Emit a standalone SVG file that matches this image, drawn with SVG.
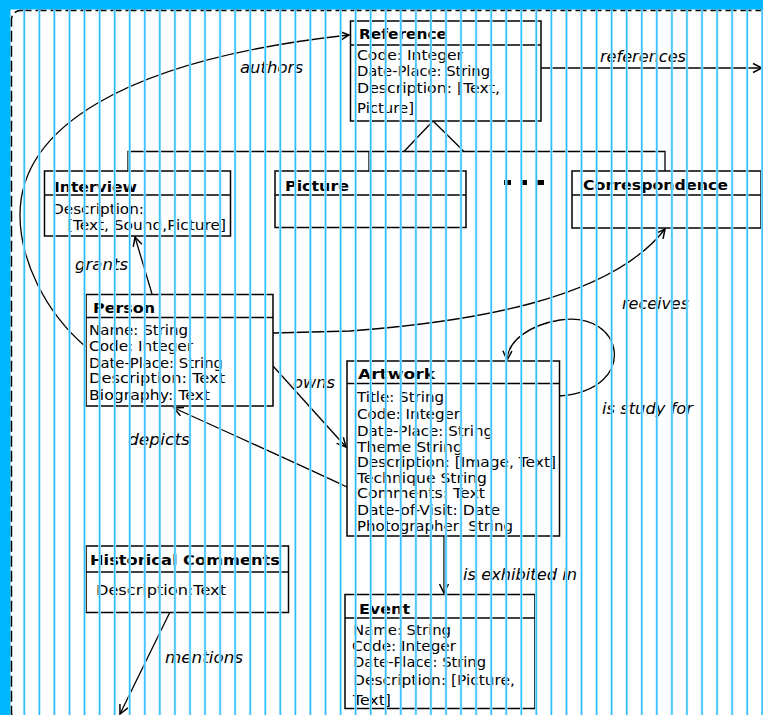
<svg xmlns="http://www.w3.org/2000/svg" width="763" height="715" viewBox="0 0 763 715">
<style>
.box{fill:#fff;stroke:#000;stroke-width:1.5}
.div{stroke:#000;stroke-width:1.5}
.hdr{font-family:"DejaVu Sans",sans-serif;font-weight:bold;font-size:14.5px;fill:#000}
.att{font-family:"DejaVu Sans",sans-serif;font-size:14.5px;fill:#000}
.lbl{font-family:"DejaVu Sans",sans-serif;font-style:italic;font-size:15px;fill:#000}
.conn{fill:none;stroke:#000;stroke-width:1.3}
</style>
<defs>
<marker id="arr" markerUnits="userSpaceOnUse" markerWidth="14" markerHeight="14" refX="10" refY="5" orient="auto" overflow="visible">
<path d="M1,0.5 L10,5 L1,9.5" fill="none" stroke="#000" stroke-width="1.5"/>
</marker>
</defs>
<rect x="0" y="0" width="763" height="715" fill="#fff"/>
<rect x="0" y="0" width="763" height="9.5" fill="#00b6ff"/>
<rect x="0" y="0" width="10.5" height="715" fill="#00b6ff"/>
<rect x="11.5" y="10.5" width="770" height="711" rx="9" fill="none" stroke="#000" stroke-width="1.5" stroke-dasharray="11 4"/>

<g id="connectors">
<path class="conn" d="M86,347 C45,312 20,260 20,215 C20,130 120,60 349,35" marker-end="url(#arr)"/>
<path class="conn" d="M541,68 H762" marker-end="url(#arr)"/>
<path class="conn" d="M152,294 L135,237" marker-end="url(#arr)"/>
<path class="conn" d="M273,333 L350,331 C470,322 610,300 665,229" marker-end="url(#arr)"/>
<path class="conn" d="M559,396 C640,390 625,310 560,320 C530,325 508,340 507,360" marker-end="url(#arr)"/>
<path class="conn" d="M273,366 L346,447" marker-end="url(#arr)"/>
<path class="conn" d="M347,487 Q300,465 174,408" marker-end="url(#arr)"/>
<path class="conn" d="M444,536 V593" marker-end="url(#arr)"/>
<path class="conn" d="M170,612 L120,714" marker-end="url(#arr)"/>
<path class="conn" d="M128,171 V151.5 H665 V171 M369,151.5 V171 M404,151.5 L433,121 L464,151.5"/>
<rect x="504" y="180" width="7" height="5" fill="#000"/>
<rect x="520" y="180" width="7" height="5" fill="#000"/>
<rect x="537" y="180" width="7" height="5" fill="#000"/>
<text class="lbl" x="240" y="73" textLength="63" lengthAdjust="spacingAndGlyphs">authors</text>
<text class="lbl" x="600" y="62" textLength="86" lengthAdjust="spacingAndGlyphs">references</text>
<text class="lbl" x="75" y="270" textLength="53" lengthAdjust="spacingAndGlyphs">grants</text>
<text class="lbl" x="622" y="309" textLength="67" lengthAdjust="spacingAndGlyphs">receives</text>
<text class="lbl" x="602" y="414" textLength="91" lengthAdjust="spacingAndGlyphs">is study for</text>
<text class="lbl" x="293" y="388" textLength="42" lengthAdjust="spacingAndGlyphs">owns</text>
<text class="lbl" x="128" y="445" textLength="62" lengthAdjust="spacingAndGlyphs">depicts</text>
<text class="lbl" x="463" y="580" textLength="114" lengthAdjust="spacingAndGlyphs">is exhibited in</text>
<text class="lbl" x="165" y="663" textLength="78" lengthAdjust="spacingAndGlyphs">mentions</text>
</g>

<g id="reference">
<rect class="box" x="350.5" y="21" width="190.5" height="100"/>
<line class="div" x1="350.5" y1="45" x2="541" y2="45"/>
<text class="hdr" x="359" y="39" textLength="88" lengthAdjust="spacingAndGlyphs">Reference</text>
<text class="att" x="357" y="60" textLength="106" lengthAdjust="spacingAndGlyphs">Code: Integer</text>
<text class="att" x="357" y="76" textLength="133" lengthAdjust="spacingAndGlyphs">Date-Place: String</text>
<text class="att" x="357" y="93" textLength="143" lengthAdjust="spacingAndGlyphs">Description: [Text,</text>
<text class="att" x="357" y="113" textLength="57" lengthAdjust="spacingAndGlyphs">Picture]</text>
</g>

<g id="interview">
<rect class="box" x="44.5" y="171" width="186" height="65"/>
<line class="div" x1="44.5" y1="195" x2="230.5" y2="195"/>
<text class="hdr" x="54" y="192" textLength="83" lengthAdjust="spacingAndGlyphs">Interview</text>
<text class="att" x="52" y="214" textLength="92" lengthAdjust="spacingAndGlyphs">Description:</text>
<text class="att" x="67" y="230" textLength="159" lengthAdjust="spacingAndGlyphs">[Text, Sound,Picture]</text>
</g>

<g id="picture">
<rect class="box" x="275" y="171" width="191" height="56.5"/>
<line class="div" x1="275" y1="195" x2="466" y2="195"/>
<text class="hdr" x="285" y="191" textLength="64" lengthAdjust="spacingAndGlyphs">Picture</text>
</g>

<g id="correspondence">
<rect class="box" x="572" y="171" width="189" height="57"/>
<line class="div" x1="572" y1="195" x2="761" y2="195"/>
<text class="hdr" x="583" y="190" textLength="145" lengthAdjust="spacingAndGlyphs">Correspondence</text>
</g>

<g id="person">
<rect class="box" x="86" y="294.5" width="187" height="111.5"/>
<line class="div" x1="86" y1="317.5" x2="273" y2="317.5"/>
<text class="hdr" x="93" y="313" textLength="62" lengthAdjust="spacingAndGlyphs">Person</text>
<text class="att" x="89" y="335" textLength="99" lengthAdjust="spacingAndGlyphs">Name: String</text>
<text class="att" x="89" y="351" textLength="104" lengthAdjust="spacingAndGlyphs">Code: Integer</text>
<text class="att" x="89" y="368" textLength="134" lengthAdjust="spacingAndGlyphs">Date-Place: String</text>
<text class="att" x="89" y="383" textLength="136" lengthAdjust="spacingAndGlyphs">Description: Text</text>
<text class="att" x="89" y="400" textLength="121" lengthAdjust="spacingAndGlyphs">Biography: Text</text>
</g>

<g id="artwork">
<rect class="box" x="347" y="361" width="212.5" height="175"/>
<line class="div" x1="347" y1="383.5" x2="559.5" y2="383.5"/>
<text class="hdr" x="358" y="379" textLength="77" lengthAdjust="spacingAndGlyphs">Artwork</text>
<text class="att" x="357" y="402" textLength="87" lengthAdjust="spacingAndGlyphs">Title: String</text>
<text class="att" x="357" y="419" textLength="103" lengthAdjust="spacingAndGlyphs">Code: Integer</text>
<text class="att" x="357" y="436" textLength="136" lengthAdjust="spacingAndGlyphs">Date-Place: String</text>
<text class="att" x="357" y="452" textLength="106" lengthAdjust="spacingAndGlyphs">Theme String</text>
<text class="att" x="357" y="467" textLength="199" lengthAdjust="spacingAndGlyphs">Description: [Image, Text]</text>
<text class="att" x="357" y="483" textLength="130" lengthAdjust="spacingAndGlyphs">Technique String</text>
<text class="att" x="357" y="498" textLength="128" lengthAdjust="spacingAndGlyphs">Comments: Text</text>
<text class="att" x="357" y="515" textLength="143" lengthAdjust="spacingAndGlyphs">Date-of-Visit: Date</text>
<text class="att" x="357" y="531" textLength="156" lengthAdjust="spacingAndGlyphs">Photographer: String</text>
</g>

<g id="event">
<rect class="box" x="345" y="594.5" width="190" height="114"/>
<line class="div" x1="345" y1="618" x2="535" y2="618"/>
<text class="hdr" x="359" y="614" textLength="51" lengthAdjust="spacingAndGlyphs">Event</text>
<text class="att" x="353" y="635" textLength="98" lengthAdjust="spacingAndGlyphs">Name: String</text>
<text class="att" x="352" y="651" textLength="104" lengthAdjust="spacingAndGlyphs">Code: Integer</text>
<text class="att" x="353" y="667" textLength="133" lengthAdjust="spacingAndGlyphs">Date-Place: String</text>
<text class="att" x="353" y="685" textLength="162" lengthAdjust="spacingAndGlyphs">Description: [Picture,</text>
<text class="att" x="353" y="705" textLength="38" lengthAdjust="spacingAndGlyphs">Text]</text>
</g>

<g id="historical-comments">
<rect class="box" x="86" y="546" width="202.5" height="66.5"/>
<line class="div" x1="86" y1="572" x2="288.5" y2="572"/>
<text class="hdr" x="90" y="565" textLength="190" lengthAdjust="spacingAndGlyphs">Historical Comments</text>
<text class="att" x="96" y="595" textLength="130" lengthAdjust="spacingAndGlyphs">Description:Text</text>
</g>

<g id="stripes" fill="none">
<path stroke="#b8e8ff" stroke-width="2.6" d="M24.3,10V715M39.4,10V715M54.4,10V715M69.5,10V715M84.5,10V715M99.6,10V715M114.7,10V715M129.7,10V715M144.8,10V715M159.8,10V715M174.9,10V715M190,10V715M205,10V715M220.1,10V715M235.1,10V715M250.2,10V715M265.3,10V715M280.3,10V715M295.4,10V715M310.4,10V715M325.5,10V715M340.6,10V715M355.6,10V715M370.7,10V715M385.7,10V715M400.8,10V715M415.9,10V715M430.9,10V715M446,10V715M461,10V715M476.1,10V715M491.2,10V715M506.2,10V715M521.3,10V715M536.3,10V715M551.4,10V715M566.5,10V715M581.5,10V715M596.6,10V715M611.6,10V715M626.7,10V715M641.8,10V715M656.8,10V715M671.9,10V715M686.9,10V715M702,10V715M717.1,10V715M732.1,10V715M747.2,10V715M762.2,10V715"/>
<path stroke="#2abdff" stroke-width="1.3" d="M24.3,10V715M39.4,10V715M54.4,10V715M69.5,10V715M84.5,10V715M99.6,10V715M114.7,10V715M129.7,10V715M144.8,10V715M159.8,10V715M174.9,10V715M190,10V715M205,10V715M220.1,10V715M235.1,10V715M250.2,10V715M265.3,10V715M280.3,10V715M295.4,10V715M310.4,10V715M325.5,10V715M340.6,10V715M355.6,10V715M370.7,10V715M385.7,10V715M400.8,10V715M415.9,10V715M430.9,10V715M446,10V715M461,10V715M476.1,10V715M491.2,10V715M506.2,10V715M521.3,10V715M536.3,10V715M551.4,10V715M566.5,10V715M581.5,10V715M596.6,10V715M611.6,10V715M626.7,10V715M641.8,10V715M656.8,10V715M671.9,10V715M686.9,10V715M702,10V715M717.1,10V715M732.1,10V715M747.2,10V715M762.2,10V715"/>
</g>
</svg>
